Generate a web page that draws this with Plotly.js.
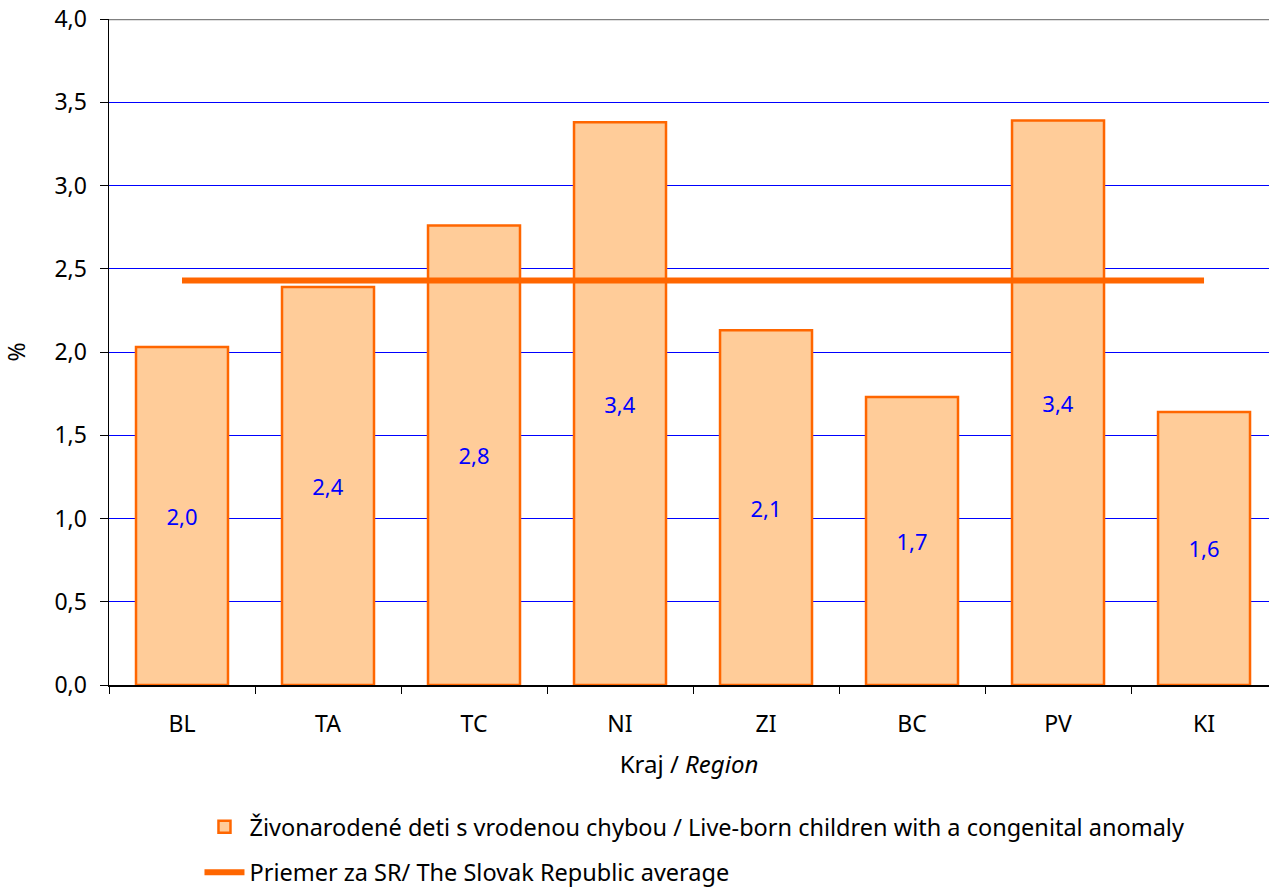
<!DOCTYPE html>
<html>
<head>
<meta charset="utf-8">
<script src="https://cdn.plot.ly/plotly-3.0.1.min.js"></script>
<style>html,body{margin:0;padding:0;background:#fff;}#chart{width:1269px;height:887px;}</style>
</head>
<body>
<div id="chart"></div>
<script>
const regions = ["BL", "TA", "TC", "NI", "ZI", "BC", "PV", "KI"];
const anomalyRates = [2.03, 2.39, 2.76, 3.38, 2.13, 1.73, 3.39, 1.64];
const averageRegions = ["BL", "KI"];
const averageValues = [2.43, 2.43];
const yTicks = [0, 0.5, 1, 1.5, 2, 2.5, 3, 3.5, 4];
const barName = "Živonarodené deti s vrodenou chybou / Live-born children with a congenital anomaly";
const lineName = "Priemer za SR/ The Slovak Republic average";

const FONT = "Noto Sans, Open Sans, sans-serif";

const traces = [
  {
    type: "bar",
    x: regions,
    y: anomalyRates,
    name: barName,
    legendgroup: "a",
    width: 0.63,
    marker: {color: "#ffcc99", line: {color: "#ff6600", width: 2.5}},
    texttemplate: "%{y:.1f}",
    textposition: "inside",
    insidetextanchor: "middle",
    textangle: 0,
    constraintext: "none",
    textfont: {color: "#0000ff", size: 22, family: FONT},
    hoverinfo: "skip"
  },
  {
    type: "scatter",
    mode: "lines",
    x: averageRegions,
    y: averageValues,
    name: lineName,
    legendgroup: "b",
    line: {color: "#ff6600", width: 6},
    hoverinfo: "skip"
  }
];

const layout = {
  width: 1269,
  height: 887,
  margin: {l: 109, r: 0, t: 19, b: 202, autoexpand: false},
  paper_bgcolor: "#ffffff",
  plot_bgcolor: "#ffffff",
  separators: ", ",
  font: {family: FONT, size: 22, color: "#000000"},
  showlegend: true,
  xaxis: {
    type: "category",
    range: [-0.5, 7.445],
    showline: true,
    linecolor: "#000000",
    linewidth: 1.5,
    ticks: "outside",
    tickson: "boundaries",
    ticklen: 7,
    tickcolor: "#000000",
    showgrid: false,
    automargin: false,
    ticklabelstandoff: 18,
    tickfont: {size: 23, family: FONT},
    title: {text: "Kraj / <i>Region</i>", font: {size: 24, family: FONT}, standoff: 18}
  },
  yaxis: {
    range: [0, 4],
    tickvals: yTicks,
    tickformat: ".1f",
    showline: true,
    linecolor: "#000000",
    linewidth: 1.5,
    ticks: "outside",
    ticklen: 8,
    tickcolor: "#000000",
    showgrid: true,
    gridcolor: "#0000ff",
    gridwidth: 1,
    zeroline: false,
    automargin: false,
    ticklabelstandoff: 8,
    tickfont: {size: 23, family: FONT},
    title: {text: "%", font: {size: 23, family: FONT}, standoff: 28}
  },
  shapes: [
    {type: "line", xref: "paper", yref: "y", x0: 0, x1: 1, y0: 4, y1: 4, line: {color: "#808080", width: 2.5}, layer: "above"}
  ],
  legend: {
    orientation: "v",
    x: 0.078,
    xanchor: "left",
    y: -0.18,
    yanchor: "top",
    bgcolor: "rgba(0,0,0,0)",
    font: {size: 23.5, family: FONT},
    tracegroupgap: 12,
    itemwidth: 40,
    traceorder: "grouped"
  }
};

Plotly.newPlot("chart", traces, layout, {displayModeBar: false, staticPlot: true});
</script>
</body>
</html>
